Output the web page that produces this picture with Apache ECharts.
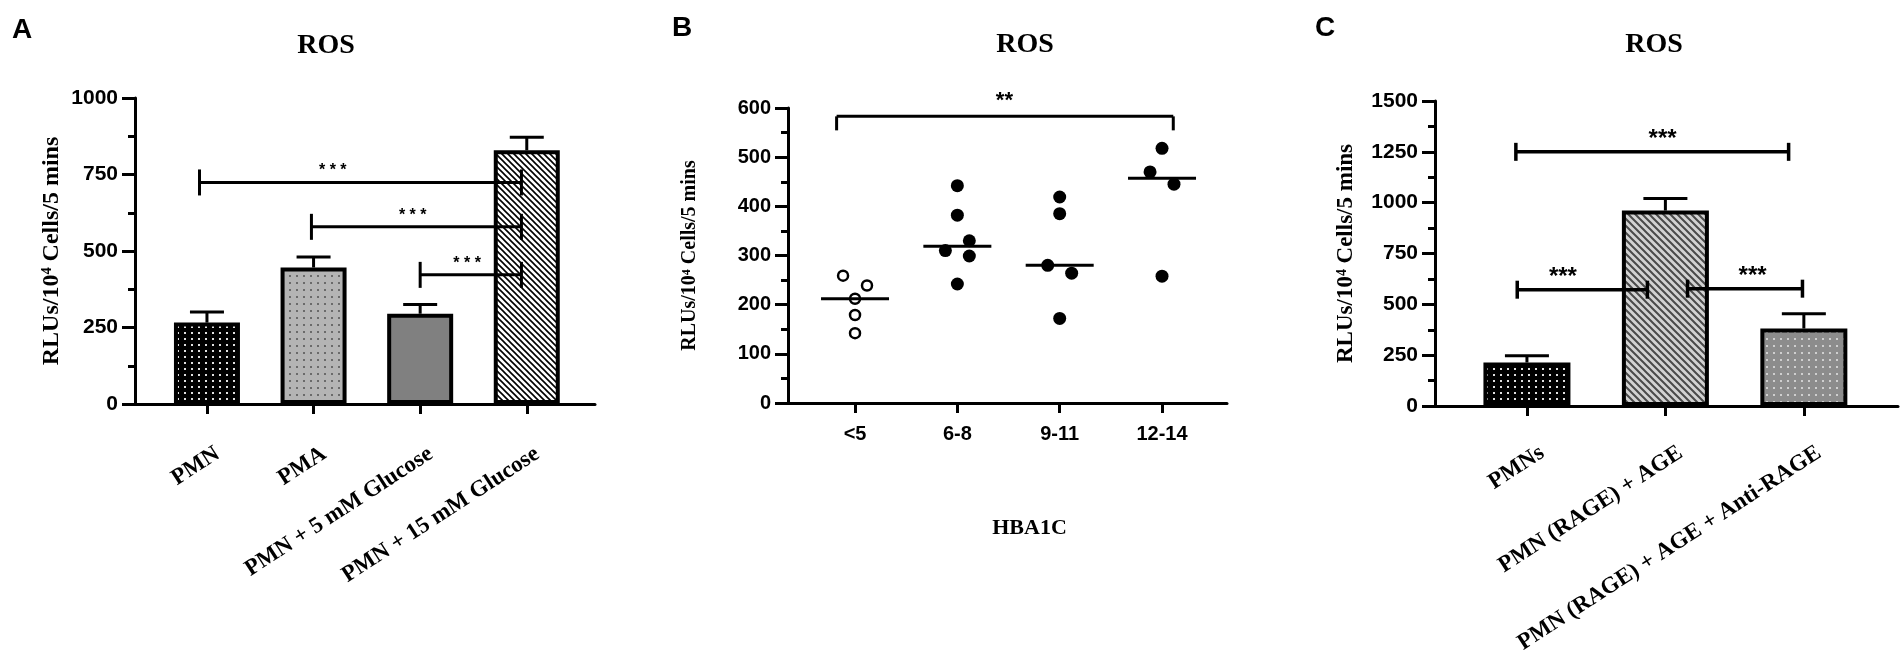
<!DOCTYPE html>
<html><head><meta charset="utf-8">
<script src="https://cdn.jsdelivr.net/npm/echarts@6/dist/echarts.min.js"></script>
<style>html,body{margin:0;padding:0;background:#fff}#c{width:1904px;height:650px}</style>
</head><body><div id="c"></div>
<script>
// ---------- DATA ----------
// Panel A
const catsA = ['PMN', 'PMA', 'PMN + 5 mM Glucose', 'PMN + 15 mM Glucose'];
const meanA = [266, 446, 295, 829];
const sdA = [35, 34, 30, 43];
const yTicksA = [0, 250, 500, 750, 1000];
// significance brackets: [from, to, level, starsAt, text]
const sigA = [[-0.07, 2.95, 724, 1.18, '* * *'], [0.98, 2.95, 579, 1.93, '* * *'], [2.0, 2.95, 422, 2.44, '* * *']];

// Panel B
const catsB = ['<5', '6-8', '9-11', '12-14'];
const ptsB = [[259, 239, 212, 179, 142], [442, 382, 330, 310, 299, 242], [419, 385, 280, 264, 172], [518, 470, 445, 258]];
const colB = [[-1, 1, 0, 0, 0], [0, 0, 1, -1, 1, 0], [0, 0, -1, 1, 0], [0, -1, 1, 0]];
const medB = [212, 319, 280, 457];
const yTicksB = [0, 100, 200, 300, 400, 500, 600];
const sigB = [[-0.18, 3.11, 583, 1.46, '**']];

// Panel C
const catsC = ['PMNs', 'PMN (RAGE) + AGE', 'PMN (RAGE) + AGE + Anti-RAGE'];
const meanC = [214, 961, 381];
const sdC = [33, 60, 73];
const yTicksC = [0, 250, 500, 750, 1000, 1250, 1500];
const sigC = [[-0.08, 1.89, 1250, 0.98, '***'], [-0.07, 0.87, 572, 0.26, '***'], [1.16, 1.99, 577, 1.63, '***']];

// ---------- STYLE ----------
const SANS = '"Liberation Sans", Arial, sans-serif';
const SERIF = '"Liberation Serif", "Times New Roman", serif';
const YNAME = 'RLUs/10\u2074 Cells/5 mins';

function pattern(w, h, bg, draw) {
  const c = document.createElement('canvas'); c.width = w; c.height = h;
  const g = c.getContext('2d'); g.fillStyle = bg; g.fillRect(0, 0, w, h); draw(g);
  return { image: c, repeat: 'repeat' };
}
function dots(w, h, bg, fg, dw, dh) {
  return pattern(w, h, bg, g => { g.fillStyle = fg; g.fillRect(2, 2, dw, dh); });
}
function hatch(s, bg, fg, lw) {
  return pattern(s, s, bg, g => {
    g.strokeStyle = fg; g.lineWidth = lw; g.beginPath();
    g.moveTo(-1, -1); g.lineTo(s + 1, s + 1);
    g.moveTo(-1, s - 1); g.lineTo(1, s + 1);
    g.moveTo(s - 1, -1); g.lineTo(s + 1, 1);
    g.stroke();
  });
}
const fillsA = [dots(7, 6, '#000', '#e0e0e0', 2, 2), dots(7, 7, '#b4b4b4', '#6a6a6a', 2, 2), '#808080', hatch(6, '#fff', '#000', 1.6)];
const fillsC = [dots(7, 6, '#000', '#e0e0e0', 2, 2), hatch(7, '#d2d2d2', '#4a4a4a', 2), dots(7, 7, '#8c8c8c', '#cfcfcf', 2, 2)];

function yAxis(gi, ticks, name, gap, fs, lfs) {
  return {
    type: 'value', gridIndex: gi, min: ticks[0], max: ticks[ticks.length - 1], interval: ticks[1] - ticks[0],
    axisLine: { show: true, onZero: false, lineStyle: { color: '#000', width: 3 } },
    axisTick: { show: true, length: 13, lineStyle: { color: '#000', width: 3 } },
    minorTick: { show: true, splitNumber: 2, length: 7, lineStyle: { color: '#000', width: 3 } },
    splitLine: { show: false }, minorSplitLine: { show: false },
    axisLabel: { color: '#000', fontFamily: SANS, fontWeight: 'bold', fontSize: lfs, margin: 17, formatter: v => String(v) },
    name: name, nameLocation: 'middle', nameGap: gap,
    nameTextStyle: { color: '#000', fontFamily: SERIF, fontWeight: 'bold', fontSize: fs }
  };
}
function xAxis(gi, cats, min, max, lab) {
  const idx = cats.map((_, i) => i);
  return {
    type: 'value', gridIndex: gi, min: min, max: max,
    axisLine: { show: true, onZero: false, lineStyle: { color: '#000', width: 3 } },
    axisTick: { show: true, length: 10, customValues: idx, lineStyle: { color: '#000', width: 3 } },
    splitLine: { show: false },
    axisLabel: Object.assign({
      customValues: idx.map(i => i + (lab.shift || 0)),
      formatter: v => cats[Math.round(v - (lab.shift || 0))],
      color: '#000', fontWeight: 'bold'
    }, lab.style)
  };
}
function barSeries(gi, means, fills, bw) {
  return {
    type: 'bar', xAxisIndex: gi, yAxisIndex: gi, barWidth: bw, z: 2, silent: true,
    data: means.map((m, i) => ({ value: [i, m], itemStyle: { color: fills[i] } })),
    itemStyle: { borderColor: '#000', borderWidth: 4 }
  };
}
function errSeries(gi, means, sds, cap) {
  return {
    type: 'custom', xAxisIndex: gi, yAxisIndex: gi, z: 1, silent: true,
    data: means.map((m, i) => [i, m, sds[i]]), encode: { x: 0, y: 1 },
    renderItem(params, api) {
      const x = api.value(0), m = api.value(1), sd = api.value(2);
      const p0 = api.coord([x, m]), p1 = api.coord([x, m + sd]);
      const ls = { stroke: '#000', lineWidth: 3 };
      return { type: 'group', children: [
        { type: 'line', shape: { x1: p0[0], y1: p0[1], x2: p1[0], y2: p1[1] }, style: ls },
        { type: 'line', shape: { x1: p1[0] - cap, y1: p1[1], x2: p1[0] + cap, y2: p1[1] }, style: ls }
      ] };
    }
  };
}
function sigSeries(gi, sig, st) {
  return {
    type: 'custom', xAxisIndex: gi, yAxisIndex: gi, z: 5, silent: true,
    data: sig.map(s => [s[0], s[2], s[1], s[3]]), encode: { x: 0, y: 1 },
    renderItem(params, api) {
      const a = api.coord([api.value(0), api.value(1)]);
      const b = api.coord([api.value(2), api.value(1)]);
      const s = api.coord([api.value(3), api.value(1)]);
      const ls = { stroke: '#000', lineWidth: st.lw };
      const up = st.down ? 0 : st.tick;
      return { type: 'group', children: [
        { type: 'line', shape: { x1: a[0], y1: a[1], x2: b[0], y2: b[1] }, style: ls },
        { type: 'line', shape: { x1: a[0], y1: a[1] - up, x2: a[0], y2: a[1] + st.tick }, style: ls },
        { type: 'line', shape: { x1: b[0], y1: b[1] - up, x2: b[0], y2: b[1] + st.tick }, style: ls },
        { type: 'text', x: s[0], y: s[1] - st.gap + 0.22 * st.fs,
          style: { text: sig[params.dataIndex][4], fill: '#000', fontSize: st.fs, fontWeight: 'bold',
                   fontFamily: SANS, align: 'center', verticalAlign: 'middle' } }
      ] };
    }
  };
}

// B scatter data built from arrays
const JIT = 0.117;
const openPts = [], fullPts = [];
ptsB.forEach((g, gi) => g.forEach((v, k) => {
  const p = [gi + colB[gi][k] * JIT, v];
  (gi === 0 ? openPts : fullPts).push(p);
}));

const labelRot = { fontFamily: SERIF, fontSize: 23, rotate: 33 };

const option = {
  animation: false,
  backgroundColor: '#fff',
  grid: [
    { left: 135, right: 1309, top: 98, bottom: 246, outerBoundsMode: 'none' },
    { left: 788, right: 677, top: 108, bottom: 247, outerBoundsMode: 'none' },
    { left: 1435, right: 6, top: 101, bottom: 244, outerBoundsMode: 'none' }
  ],
  xAxis: [
    xAxis(0, catsA, -0.675, 3.64, { shift: 0.1, style: Object.assign({ margin: 48 }, labelRot) }),
    Object.assign(xAxis(1, catsB, -0.655, 3.635, { shift: 0, style: { fontFamily: SANS, fontSize: 20, margin: 21 } }), {
      name: 'HBA1C', nameLocation: 'middle', nameGap: 114,
      nameTextStyle: { color: '#000', fontFamily: SERIF, fontWeight: 'bold', fontSize: 22, padding: [0, 0, 0, 44] }
    }),
    xAxis(2, catsC, -0.664, 2.68, { shift: 0.11, style: Object.assign({ margin: 45 }, labelRot) })
  ],
  yAxis: [
    yAxis(0, yTicksA, YNAME, 71, 24, 21),
    yAxis(1, yTicksB, YNAME, 88, 20, 20),
    yAxis(2, yTicksC, YNAME, 77, 23, 21)
  ],
  graphic: [
    { type: 'text', x: 12, y: 30, style: { text: 'A', fontFamily: SANS, fontWeight: 'bold', fontSize: 28, fill: '#000', verticalAlign: 'middle' } },
    { type: 'text', x: 672, y: 28, style: { text: 'B', fontFamily: SANS, fontWeight: 'bold', fontSize: 28, fill: '#000', verticalAlign: 'middle' } },
    { type: 'text', x: 1315, y: 28, style: { text: 'C', fontFamily: SANS, fontWeight: 'bold', fontSize: 28, fill: '#000', verticalAlign: 'middle' } },
    { type: 'text', x: 326, y: 46, style: { text: 'ROS', fontFamily: SERIF, fontWeight: 'bold', fontSize: 28, fill: '#000', align: 'center', verticalAlign: 'middle' } },
    { type: 'text', x: 1025, y: 45, style: { text: 'ROS', fontFamily: SERIF, fontWeight: 'bold', fontSize: 28, fill: '#000', align: 'center', verticalAlign: 'middle' } },
    { type: 'text', x: 1654, y: 45, style: { text: 'ROS', fontFamily: SERIF, fontWeight: 'bold', fontSize: 28, fill: '#000', align: 'center', verticalAlign: 'middle' } }
  ],
  series: [
    barSeries(0, meanA, fillsA, 66),
    errSeries(0, meanA, sdA, 17),
    sigSeries(0, sigA, { lw: 3, tick: 13, down: false, gap: 15, fs: 16 }),
    { type: 'scatter', xAxisIndex: 1, yAxisIndex: 1, z: 3, silent: true, symbol: 'circle', symbolSize: 10,
      itemStyle: { color: '#fff', borderColor: '#000', borderWidth: 2.5, opacity: 1 }, data: openPts },
    { type: 'scatter', xAxisIndex: 1, yAxisIndex: 1, z: 3, silent: true, symbol: 'circle', symbolSize: 13,
      itemStyle: { color: '#000', opacity: 1 }, data: fullPts },
    { type: 'scatter', xAxisIndex: 1, yAxisIndex: 1, z: 4, silent: true, symbol: 'rect', symbolSize: [68, 3],
      itemStyle: { color: '#000', opacity: 1 }, data: medB.map((m, i) => [i, m]) },
    sigSeries(1, sigB, { lw: 3, tick: 14, down: true, gap: 20, fs: 22 }),
    barSeries(2, meanC, fillsC, 87),
    errSeries(2, meanC, sdC, 22),
    sigSeries(2, sigC, { lw: 3.5, tick: 9, down: false, gap: 18, fs: 24 })
  ]
};
echarts.init(document.getElementById('c')).setOption(option);
</script>
</body></html>
